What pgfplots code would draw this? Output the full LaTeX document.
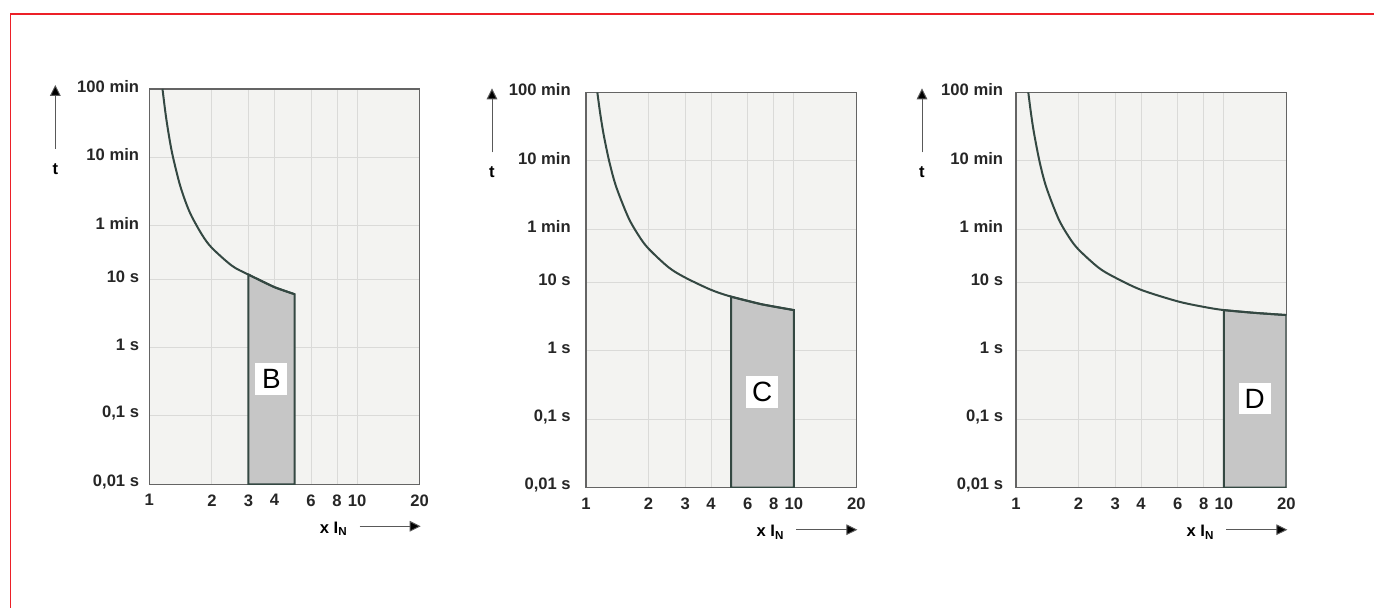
\documentclass[border=0pt]{standalone}
\usepackage{fontspec}
\setmainfont{Liberation Sans}
\usepackage{pgfplots}
\pgfplotsset{compat=1.18}
\usetikzlibrary{arrows.meta}

\definecolor{panelbg}{RGB}{243,243,241}
\definecolor{gridc}{RGB}{218,218,216}
\definecolor{framec}{RGB}{100,100,100}
\definecolor{curvec}{RGB}{52,72,66}
\definecolor{shadec}{RGB}{198,198,198}
\definecolor{borderred}{RGB}{236,32,40}

\pgfplotsset{
  every axis/.append style={
    xmode=log, ymode=log,
    width=202.75bp, height=296.5bp, scale only axis,
    xmin=1, xmax=20, ymin=0.01, ymax=6000,
    xtick={1,2,3,4,6,8,10,20},
    xticklabels={1,2,3,4,6,8,10,20},
    ytick={0.01,0.1,1,10,60,600,6000},
    yticklabels={{0,01 s},{0,1 s},{1 s},{10 s},{1 min},{10 min},{100 min}},
    major tick length=0pt, minor tick length=0pt,
    grid=major, major grid style={gridc, line width=0.6bp},
    axis line style={framec, line width=1.1bp},
    axis background/.style={fill=panelbg},
    tick label style={font=\fontsize{12.5}{14}\selectfont\bfseries, text=black!85},
    xticklabel style={anchor=north, inner sep=0pt, yshift=-7.5bp},
    yticklabel style={anchor=east, inner sep=0pt, yshift=2bp},
    anchor=south west,
  },
}
\tikzset{
  tcurve/.style={curvec, line width=1.5bp, smooth},
  tzone/.style={fill=shadec, draw=curvec, line width=1.5bp},
  tletter/.style={fill=white, inner sep=0pt, minimum width=24bp, minimum height=23.5bp,
    font=\fontsize{21}{21}\selectfont},
}

\newcommand{\axisdeco}[1]{%
  \draw[black!65, line width=0.7bp, -{Triangle[length=8.25bp,width=8bp,fill=black]}]
    ([xshift=-45bp,yshift=-31.5bp]#1.south east) -- ([xshift=0.75bp,yshift=-31.5bp]#1.south east);
  \node[anchor=base east, inner sep=0pt, font=\fontsize{12.5}{14}\selectfont\bfseries]
    at ([xshift=-54bp,yshift=-36.75bp]#1.south east) {x I\textsubscript{N}};
  \draw[black!65, line width=0.7bp, -{Triangle[length=8.25bp,width=8bp,fill=black]}]
    ([xshift=-70.5bp,yshift=-45bp]#1.north west) -- ([xshift=-70.5bp,yshift=3bp]#1.north west);
  \node[inner sep=0pt, font=\fontsize{12.5}{14}\selectfont\bfseries]
    at ([xshift=-70.5bp,yshift=-60bp]#1.north west) {t};
}

\begin{document}
\begin{tikzpicture}
\path[use as bounding box] (0,0) rectangle (1030.5bp,456bp);
\draw[borderred, line width=1.2bp] (8bp,0) -- (8bp,445.5bp) -- (1031bp,445.5bp);

% B
\begin{axis}[name=pb, at={(112bp,92.8bp)}, yticklabel style={xshift=-7.5bp}]
\addplot[tzone, no marks] coordinates {(3,0.01) (3,11.6) (4,7.6) (5,6.0) (5,0.01)} -- cycle;
\addplot[tcurve, no marks] coordinates {
  (1.157,6000) (1.2,2470) (1.25,1117) (1.3,603) (1.4,244) (1.5,130) (1.6,82)
  (1.8,43.5) (2,28.5) (2.5,15.6) (3,11.6) (4,7.6) (5,6.0)};
\node[tletter] at (axis cs:3.87,0.347) {B};
\end{axis}

% C
\begin{axis}[name=pc, at={(439.5bp,90.2bp)}, yticklabel style={xshift=-11.25bp}]
\addplot[tzone, no marks] coordinates {(5,0.01) (5,6.2) (7,4.8) (10,3.95) (10,0.01)} -- cycle;
\addplot[tcurve, no marks] coordinates {
  (1.134,6000) (1.17,2970) (1.22,1374) (1.3,552) (1.4,246) (1.6,88.7)
  (1.8,47.6) (2,31.2) (2.5,16.6) (3,11.8) (4,7.8) (5,6.2) (7,4.8) (10,3.95)};
\node[tletter] at (axis cs:7.05,0.25) {C};
\end{axis}

% D
\begin{axis}[name=pd, at={(762bp,90.2bp)}, yticklabel style={xshift=-9.5bp}]
\addplot[tzone, no marks] coordinates {(10,0.01) (10,3.95) (14,3.6) (20,3.34) (20,0.01)} -- cycle;
\addplot[tcurve, no marks] coordinates {
  (1.146,6000) (1.18,3000) (1.22,1545) (1.3,574) (1.4,245) (1.6,85.7)
  (1.8,45.9) (2,30.3) (2.5,16.4) (3,11.8) (4,7.8) (6,5.3) (8,4.4)
  (10,3.95) (14,3.6) (20,3.34)};
\node[tletter] at (axis cs:14.1,0.2) {D};
\end{axis}

\axisdeco{pb}
\axisdeco{pc}
\axisdeco{pd}
\end{tikzpicture}
\end{document}
